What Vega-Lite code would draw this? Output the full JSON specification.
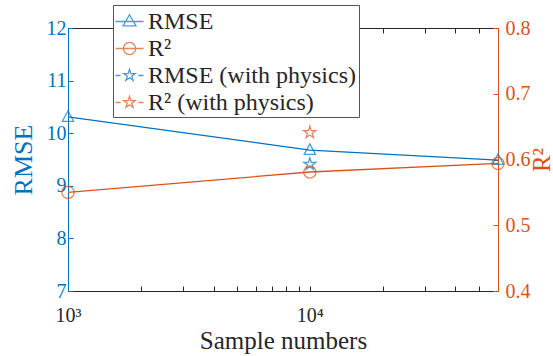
{
  "$schema": "https://vega.github.io/schema/vega-lite/v6.json",
  "width": 430,
  "height": 263,
  "autosize": {"type": "none"},
  "padding": {"left": 68, "top": 28, "right": 55, "bottom": 65},
  "background": "white",
  "config": {
    "view": {"stroke": null},
    "font": "Liberation Serif",
    "axis": {
      "labelFont": "Liberation Serif",
      "titleFont": "Liberation Serif",
      "grid": false,
      "labelFontSize": 20,
      "titleFontSize": 25,
      "titleFontWeight": "normal",
      "tickSize": -5,
      "tickWidth": 1,
      "domainWidth": 1,
      "labelFlush": false,
      "labelOverlap": false
    },
    "legend": {"labelFont": "Liberation Serif"}
  },
  "data": {
    "values": [
      {"n": 1000, "value": 10.31, "series": "RMSE", "metric": "RMSE"},
      {"n": 10000, "value": 9.68, "series": "RMSE", "metric": "RMSE"},
      {"n": 60000, "value": 9.49, "series": "RMSE", "metric": "RMSE"},
      {"n": 10000, "value": 9.41, "series": "RMSE (with physics)", "metric": "RMSE"},
      {"n": 1000, "value": 0.55, "series": "R\u00b2", "metric": "R2"},
      {"n": 10000, "value": 0.581, "series": "R\u00b2", "metric": "R2"},
      {"n": 60000, "value": 0.594, "series": "R\u00b2", "metric": "R2"},
      {"n": 10000, "value": 0.641, "series": "R\u00b2 (with physics)", "metric": "R2"}
    ]
  },
  "layer": [
    {
      "transform": [{"filter": "datum.metric === 'RMSE'"}],
      "encoding": {
        "x": {
          "field": "n", "type": "quantitative",
          "scale": {"type": "log", "domain": [1000, 60000], "nice": false},
          "axis": {
            "orient": "bottom",
            "values": [1000, 2000, 3000, 4000, 5000, 6000, 7000, 8000, 9000, 10000, 20000, 30000, 40000, 50000],
            "labelExpr": "datum.value === 1000 ? '10\u00b3' : datum.value === 10000 ? '10\u2074' : ''",
            "labelFont": "Liberation Serif",
            "labelPadding": 19,
            "labelColor": "#262626",
            "domainColor": "#262626",
            "tickColor": "#262626",
            "title": "Sample numbers",
            "titleFont": "Liberation Serif",
            "titleColor": "#262626",
            "titleFontSize": 25,
            "titlePadding": 3
          }
        },
        "y": {
          "field": "value", "type": "quantitative",
          "scale": {"domain": [7, 12], "nice": false, "zero": false},
          "axis": {
            "orient": "left",
            "values": [7, 8, 9, 10, 11, 12],
            "labelFont": "Liberation Serif",
            "labelPadding": 7,
            "labelColor": "#0072BD",
            "domainColor": "#0072BD",
            "tickColor": "#0072BD",
            "title": "RMSE",
            "titleFont": "Liberation Serif",
            "titleColor": "#0072BD",
            "titleFontSize": 26,
            "titlePadding": 10
          }
        }
      },
      "layer": [
        {
          "transform": [{"filter": "datum.series === 'RMSE'"}],
          "mark": {"type": "line", "color": "#0072BD", "strokeWidth": 1.3}
        },
        {
          "transform": [{"filter": "datum.series === 'RMSE'"}],
          "mark": {"type": "point", "filled": false, "color": "#0072BD", "strokeWidth": 1.3, "size": 150, "shape": "M0,-1L0.92,0.72L-0.92,0.72Z"}
        },
        {
          "transform": [{"filter": "datum.series === 'RMSE (with physics)'"}],
          "mark": {"type": "point", "filled": false, "color": "#0072BD", "strokeWidth": 1.3, "size": 160, "shape": "M0,-1L0.225,-0.309L0.951,-0.309L0.363,0.118L0.588,0.809L0,0.382L-0.588,0.809L-0.363,0.118L-0.951,-0.309L-0.225,-0.309Z"}
        },
        {
          "transform": [{"filter": "false"}],
          "mark": {"type": "point", "filled": false, "strokeWidth": 1.3},
          "encoding": {
            "color": {
              "field": "series", "type": "nominal",
              "scale": {"domain": ["RMSE", "R\u00b2", "RMSE (with physics)", "R\u00b2 (with physics)"], "range": ["#0072BD", "#D95319", "#0072BD", "#D95319"]},
              "legend": {
                "orient": "none", "legendX": 45, "legendY": -23, "title": null,
                "fillColor": "white", "strokeColor": "#555555", "padding": 2,
                "labelFont": "Liberation Serif", "labelFontSize": 24, "labelColor": "#262626", "labelLimit": 400,
                "labelOffset": 4, "rowPadding": 0, "symbolSize": 729, "symbolStrokeWidth": 1.3,
                "symbolFillColor": "transparent"
              }
            },
            "shape": {
              "field": "series", "type": "nominal",
              "scale": {"domain": ["RMSE", "R\u00b2", "RMSE (with physics)", "R\u00b2 (with physics)"], "range": [
                "M-1.04,0H1.04M0,-0.5L0.48,0.32L-0.48,0.32Z",
                "M-1.04,0H1.04M-0.45,0A0.45,0.45 0 1,0 0.45,0A0.45,0.45 0 1,0 -0.45,0Z",
                "M-1.04,0H-0.66M0.66,0H1.04M0,-0.45L0.101,-0.139L0.428,-0.139L0.163,0.053L0.265,0.364L0,0.172L-0.265,0.364L-0.163,0.053L-0.428,-0.139L-0.101,-0.139Z",
                "M-1.04,0H-0.66M0.66,0H1.04M0,-0.45L0.101,-0.139L0.428,-0.139L0.163,0.053L0.265,0.364L0,0.172L-0.265,0.364L-0.163,0.053L-0.428,-0.139L-0.101,-0.139Z"
              ]},
              "legend": {
                "orient": "none", "legendX": 45, "legendY": -23, "title": null,
                "fillColor": "white", "strokeColor": "#555555", "padding": 2,
                "labelFont": "Liberation Serif", "labelFontSize": 24, "labelColor": "#262626", "labelLimit": 400,
                "labelOffset": 4, "rowPadding": 0, "symbolSize": 729, "symbolStrokeWidth": 1.3,
                "symbolFillColor": "transparent"
              }
            }
          }
        }
      ]
    },
    {
      "transform": [{"filter": "datum.metric === 'R2'"}],
      "encoding": {
        "x": {
          "field": "n", "type": "quantitative",
          "scale": {"type": "log", "domain": [1000, 60000], "nice": false},
          "axis": {
            "orient": "top",
            "values": [1000, 2000, 3000, 4000, 5000, 6000, 7000, 8000, 9000, 10000, 20000, 30000, 40000, 50000],
            "labels": false,
            "domainColor": "#262626",
            "tickColor": "#262626",
            "title": null
          }
        },
        "y": {
          "field": "value", "type": "quantitative",
          "scale": {"domain": [0.4, 0.8], "nice": false, "zero": false},
          "axis": {
            "orient": "right",
            "values": [0.4, 0.5, 0.6, 0.7, 0.8],
            "format": ".1f",
            "labelFont": "Liberation Serif",
            "labelPadding": 12,
            "labelColor": "#D95319",
            "domainColor": "#D95319",
            "tickColor": "#D95319",
            "title": "R\u00b2",
            "titleFont": "Liberation Serif",
            "titleAngle": 270,
            "titleColor": "#D95319",
            "titleFontSize": 25,
            "titlePadding": 24
          }
        }
      },
      "layer": [
        {
          "transform": [{"filter": "datum.series === 'R\u00b2'"}],
          "mark": {"type": "line", "color": "#D95319", "strokeWidth": 1.3}
        },
        {
          "transform": [{"filter": "datum.series === 'R\u00b2'"}],
          "mark": {"type": "point", "filled": false, "color": "#D95319", "strokeWidth": 1.3, "size": 150, "shape": "circle"}
        },
        {
          "transform": [{"filter": "datum.series === 'R\u00b2 (with physics)'"}],
          "mark": {"type": "point", "filled": false, "color": "#D95319", "strokeWidth": 1.3, "size": 160, "shape": "M0,-1L0.225,-0.309L0.951,-0.309L0.363,0.118L0.588,0.809L0,0.382L-0.588,0.809L-0.363,0.118L-0.951,-0.309L-0.225,-0.309Z"}
        }
      ]
    }
  ],
  "resolve": {"scale": {"y": "independent"}, "axis": {"x": "independent"}}
}
